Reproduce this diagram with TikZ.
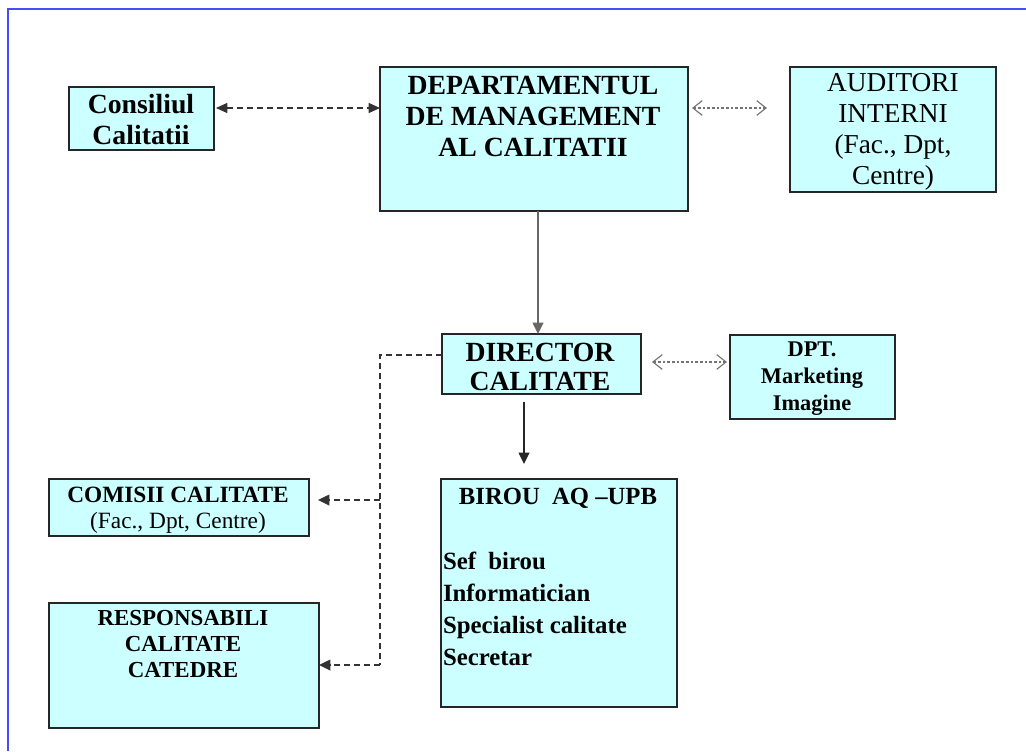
\documentclass[tikz,border=0pt]{standalone}
\usepackage{fontspec}
\setmainfont{Liberation Serif}
\usetikzlibrary{arrows.meta,calc}
\definecolor{boxfill}{HTML}{CCFFFF}
\definecolor{frameblue}{HTML}{4A4AFF}
\begin{document}
\begin{tikzpicture}[x=0.75pt,y=-0.75pt,
  box/.style={draw=black!85, line width=1.1pt, fill=boxfill, inner sep=0pt, outer sep=0pt, rectangle, anchor=north west},
  txt/.style={inner sep=0pt, outer sep=0pt, align=center, anchor=north},
  bigb/.style={font=\fontsize{20.8}{23.3}\selectfont\bfseries},
  bigr/.style={font=\fontsize{20.5}{23.3}\selectfont},
  midb/.style={font=\fontsize{17.2}{19.5}\selectfont\bfseries},
  dasharr/.style={draw=black!80, line width=1.1pt, dash pattern=on 4.5pt off 3pt},
  dotarr/.style={draw=black!55, line width=0.85pt, dash pattern=on 2pt off 1.5pt, {Straight Barb[length=7pt,width=11pt]}-{Straight Barb[length=7pt,width=11pt]}},
  solidtip/.style={-{Triangle[length=8.5pt,width=8pt]}},
  bothtip/.style={{Triangle[length=8.5pt,width=7.5pt]}-{Triangle[length=8.5pt,width=7.5pt]}}
]
\useasboundingbox (0,0) rectangle (1026,751);
% frame
\draw[frameblue, line width=1.8pt] (8,751) -- (8,9) -- (1026,9);

% boxes
\node[box, minimum width=108.75pt, minimum height=47.25pt] (cons) at (69,87) {};
\node[box, minimum width=231pt, minimum height=108pt] (dept) at (380,67) {};
\node[box, minimum width=154.5pt, minimum height=93.75pt] (aud) at (790,67) {};
\node[box, minimum width=149.25pt, minimum height=45pt] (dir) at (442,334) {};
\node[box, minimum width=123.75pt, minimum height=63pt] (mkt) at (730,335) {};
\node[box, minimum width=195pt, minimum height=42.75pt] (com) at (49,479) {};
\node[box, minimum width=202.5pt, minimum height=93.75pt] (resp) at (49,603) {};
\node[box, minimum width=177pt, minimum height=171pt] (bir) at (441,479) {};

% texts
\node[txt, bigb] (consT) at (141,94) {Consiliul\\Calitatii};
\node[txt, bigb] (deptT) at (533,76) {DEPARTAMENTUL\\DE MANAGEMENT\\AL CALITATII};
\node[txt, bigr] (audT) at (893,73) {AUDITORI\\INTERNI\\(Fac., Dpt,\\Centre)};
\node[txt, font=\fontsize{20.8}{21.8}\selectfont\bfseries] (dirT) at (540,343) {DIRECTOR\\CALITATE};
\node[txt, font=\fontsize{16.8}{20}\selectfont\bfseries] (mktT) at (812,342) {DPT.\\Marketing\\Imagine};
\node[txt, font=\fontsize{17.5}{19.5}\selectfont] (comT) at (178,487) {\textbf{COMISII CALITATE}\\(Fac., Dpt, Centre)};
\node[txt, midb] (respT) at (183,610) {RESPONSABILI\\CALITATE\\CATEDRE};
\node[txt, font=\fontsize{18.5}{22}\selectfont\bfseries] (birT) at (558,488) {BIROU\ \ AQ --UPB};
\node[txt, font=\fontsize{18.6}{24}\selectfont\bfseries, align=left, anchor=north west] (birL) at (443,552) {Sef\ \ birou\\Informatician\\Specialist calitate\\Secretar};

% connectors
\draw[dasharr, bothtip] ($(cons.east |- 0,108)+(2,0)$) -- (dept.west |- 0,108);
\draw[dotarr] ($(dept.east |- 0,108)+(4,0)$) -- ($(aud.west |- 0,108)+(-23,0)$);
\draw[draw=black!60, line width=1.1pt, solidtip] (dept.south -| 538,0) -- (dir.north -| 538,0);
\draw[draw=black!85, line width=1.1pt, solidtip] ($(dir.south -| 524,0)+(0,8)$) -- ($(bir.north -| 524,0)+(0,-15)$);
\draw[dotarr] ($(dir.east |- 0,362)+(11,0)$) -- ($(mkt.west |- 0,362)+(-3,0)$);
\coordinate (vj) at (380,355);
\coordinate (vb) at (380,665);
\draw[dasharr] (dir.west |- vj) -- (vj) -- (vb);
\draw[dasharr, solidtip] (vj |- 0,500) -- ($(com.east |- 0,500)+(9,0)$);
\draw[dasharr, solidtip] (vb) -- (resp.east |- vb);
\end{tikzpicture}
\end{document}
